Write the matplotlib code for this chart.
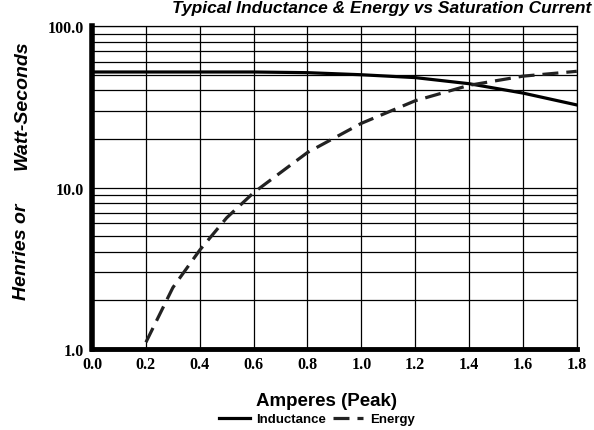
import matplotlib

matplotlib.use("Agg")
import matplotlib.pyplot as plt
from matplotlib.ticker import FixedLocator, NullFormatter

# values
amps = [0.0, 0.2, 0.4, 0.6, 0.8, 1.0, 1.2, 1.4, 1.6, 1.8]
inductance = [52.0, 52.0, 52.0, 52.0, 51.5, 50.0, 48.0, 44.0, 38.5, 32.5]
energy_amps = [0.2, 0.3, 0.4, 0.5, 0.6, 0.8, 1.0, 1.2, 1.4, 1.6, 1.8]
energy = [1.1, 2.4, 4.1, 6.5, 9.3, 16.5, 25.0, 34.5, 43.0, 49.0, 52.5]
x_ticks = [0.0, 0.2, 0.4, 0.6, 0.8, 1.0, 1.2, 1.4, 1.6, 1.8]
y_ticks = [1, 10, 100]
y_labels = ["1.0", "10.0", "100.0"]

serif = ["Liberation Serif", "DejaVu Serif"]
sans = ["Liberation Sans", "DejaVu Sans"]

fig = plt.figure(figsize=(5.94, 4.31), dpi=100)
ax = fig.add_axes([0.155, 0.188, 0.816, 0.749])

ax.set_yscale("log")
ax.set_xlim(0, 1.8)
ax.set_ylim(1, 100)

minor = [m * d for d in (1, 10) for m in range(2, 10)]
ax.yaxis.set_minor_locator(FixedLocator(minor))
ax.yaxis.set_minor_formatter(NullFormatter())
ax.set_yticks(y_ticks)
ax.set_yticklabels(y_labels)
ax.set_xticks(x_ticks)
ax.set_xticklabels([f"{v:.1f}" for v in x_ticks])

ax.grid(True, which="both", color="black", lw=0.9)
ax.tick_params(which="both", length=0)
ax.tick_params(axis="x", pad=5)
ax.tick_params(axis="y", pad=6)
for lab in ax.get_xticklabels() + ax.get_yticklabels():
    lab.set_family(serif)
    lab.set_weight("bold")
    lab.set_fontsize(11.5)

for side in ("top", "right"):
    ax.spines[side].set_linewidth(0.9)
ax.spines["left"].set_linewidth(4)
ax.spines["bottom"].set_linewidth(3.5)

l1, = ax.plot(amps, inductance, color="black", lw=2.3, label="Inductance")
l2, = ax.plot(energy_amps, energy, color="#222222", lw=2.3, ls=(0, (5, 2.5)),
              label="Energy")

fig.text(327 / 594, 1 - 402 / 431, "Amperes (Peak)", family=sans,
         weight="bold", fontsize=13.5, ha="center", va="center")

fig.text(0.995, 1 - 1 / 431, "Typical Inductance & Energy vs Saturation Current",
         family=sans, weight="bold", style="italic", fontsize=12.5,
         va="top", ha="right")
fig.text(22 / 594, 1 - 105 / 431, "Watt-Seconds", family=sans, weight="bold",
         style="italic", fontsize=14, rotation=90, ha="center", va="center")
fig.text(22 / 594, 1 - 252 / 431, "Henries or", family=sans, weight="bold",
         style="italic", fontsize=14, rotation=90, ha="center", va="center")

fig.legend(handles=[l1, l2], loc="center", bbox_to_anchor=(317 / 594, 1 - 420 / 431),
           ncol=2, frameon=False,
           prop={"family": sans, "weight": "bold", "size": 9.5},
           handlelength=2.3, columnspacing=0.5, handletextpad=0.5,
           borderaxespad=0)

fig.savefig("out.png", dpi=100)
